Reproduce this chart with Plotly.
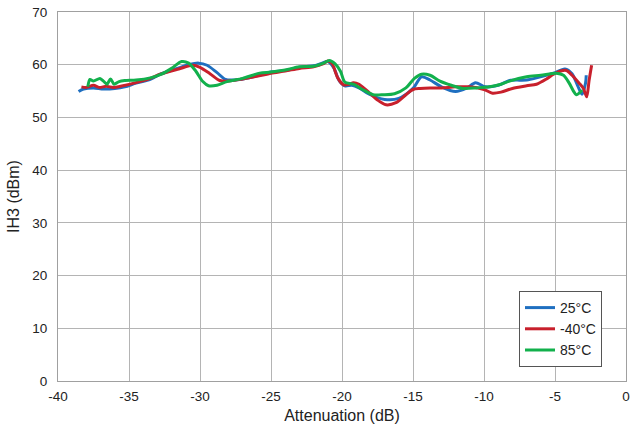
import plotly.graph_objects as go

x_25 = [-38.55,-38.2,-37.5,-36.8,-36.0,-35.3,-34.5,-33.5,-32.8,-31.5,-30.8,-30.1,-29.5,-28.8,-28.2,-27.2,-26.0,-25.0,-24.0,-23.0,-22.0,-21.5,-21.0,-20.6,-20.2,-19.8,-19.3,-18.8,-18.0,-17.0,-16.0,-15.0,-14.4,-13.8,-13.0,-12.0,-11.2,-10.6,-9.9,-9.0,-8.2,-7.0,-6.3,-5.1,-4.3,-3.8,-3.4,-3.1,-2.85,-2.8]
y_25 = [54.9,55.4,55.6,55.4,55.5,55.8,56.5,57.2,58.2,59.4,60.0,60.3,59.9,58.5,57.2,57.2,57.9,58.6,58.9,59.5,59.8,60.2,60.6,59.5,57.0,56.0,56.1,55.6,54.3,53.4,53.6,55.5,57.7,57.1,55.8,54.9,55.6,56.6,55.8,56.1,57.0,57.1,57.5,58.4,59.2,58.3,56.0,54.4,56.5,58.0]

x_m40 = [-38.35,-38.0,-37.5,-37.1,-36.6,-36.1,-35.6,-34.5,-33.5,-32.8,-31.5,-30.5,-30.0,-29.3,-28.6,-28.0,-27.0,-26.0,-25.0,-24.0,-23.0,-22.0,-21.3,-21.0,-20.7,-20.3,-19.9,-19.5,-19.2,-18.8,-18.0,-17.5,-16.9,-16.2,-15.5,-15.0,-14.5,-13.8,-13.0,-12.0,-11.0,-10.0,-9.4,-8.8,-8.0,-7.0,-6.3,-5.6,-5.1,-4.6,-4.2,-3.8,-3.3,-3.0,-2.77,-2.6,-2.42]
y_m40 = [55.8,55.7,56.1,55.7,55.9,55.7,55.9,56.6,57.4,58.2,59.2,59.9,59.5,58.3,57.0,56.9,57.3,57.8,58.4,58.8,59.3,59.6,60.2,60.7,60.2,57.5,56.2,56.3,56.6,56.3,54.5,53.3,52.4,52.8,54.3,55.3,55.5,55.6,55.6,55.8,55.8,55.3,54.6,54.8,55.5,56.0,56.3,57.3,58.2,58.8,58.9,58.0,56.5,55.5,53.9,57.0,59.9]

x_85 = [-37.9,-37.75,-37.5,-37.05,-36.8,-36.55,-36.3,-36.05,-35.7,-35.3,-34.5,-33.5,-32.8,-32.0,-31.3,-30.8,-30.3,-29.8,-29.4,-28.8,-28.1,-27.0,-25.8,-25.0,-24.0,-23.0,-22.0,-21.3,-20.9,-20.5,-20.1,-19.8,-19.2,-18.5,-17.8,-17.1,-16.3,-15.5,-14.9,-14.4,-13.8,-13.1,-12.3,-11.5,-10.5,-9.6,-8.8,-8.2,-7.0,-6.0,-4.9,-4.4,-4.0,-3.7,-3.5,-3.3,-3.1]
y_85 = [55.8,57.2,56.9,57.4,56.9,56.3,57.3,56.3,56.8,57.0,57.1,57.5,58.1,59.3,60.6,60.3,58.8,56.8,56.0,56.1,56.8,57.4,58.4,58.6,59.0,59.6,59.7,60.3,60.8,60.2,58.7,56.7,56.3,55.2,54.3,54.3,54.5,55.6,57.4,58.2,58.0,56.9,56.1,55.5,55.6,55.8,56.3,56.9,57.7,58.0,58.4,58.0,56.5,55.0,54.3,54.6,55.2]

x_ticks = [-40, -35, -30, -25, -20, -15, -10, -5, 0]
x_tick_labels = ["-40", "-35", "-30", "-25", "-20", "-15", "-10", "-5", "0"]
y_ticks = [0, 10, 20, 30, 40, 50, 60, 70]
y_tick_labels = ["0", "10", "20", "30", "40", "50", "60", "70"]

series = [
    ("25°C", x_25, y_25, "#1f6fc0"),
    ("-40°C", x_m40, y_m40, "#c8202c"),
    ("85°C", x_85, y_85, "#12b04c"),
]

fig = go.Figure()
for name, xs, ys, col in series:
    fig.add_trace(go.Scatter(x=xs, y=ys, mode="lines", name=name,
                             line=dict(color=col, width=3, shape="spline", smoothing=0.8)))

fam = "Liberation Sans, Arial, sans-serif"
fig.update_layout(
    width=630, height=434,
    margin=dict(l=58, r=4, t=12, b=53),
    paper_bgcolor="white", plot_bgcolor="white",
    font=dict(family=fam, size=13.5, color="#222"),
    showlegend=True,
    legend=dict(x=0.8116, y=0.2439, xanchor="left", yanchor="top",
                bgcolor="white", bordercolor="#555", borderwidth=1,
                font=dict(family=fam, size=14, color="#222"),
                tracegroupgap=0, itemwidth=30),
)
fig.update_xaxes(range=[-40, 0], tickmode="array", tickvals=x_ticks, ticktext=x_tick_labels,
                 showgrid=True, gridcolor="#b4b4b4", gridwidth=1,
                 showline=True, linecolor="#a0a0a0", linewidth=1, mirror=True, zeroline=False,
                 ticks="", automargin=False, ticklabelstandoff=3,
                 title=dict(text="Attenuation (dB)", font=dict(size=16), standoff=6))
fig.update_yaxes(range=[0, 70], tickmode="array", tickvals=y_ticks, ticktext=y_tick_labels,
                 showgrid=True, gridcolor="#b4b4b4", gridwidth=1,
                 showline=True, linecolor="#a0a0a0", linewidth=1, mirror=True, zeroline=False,
                 ticks="", automargin=False, ticklabelstandoff=7,
                 title=dict(text="IH3 (dBm)", font=dict(size=16), standoff=8))

fig.write_html("out.html", config={"displayModeBar": False},
               post_script="document.body.style.margin='0';document.body.style.overflow='hidden';")
